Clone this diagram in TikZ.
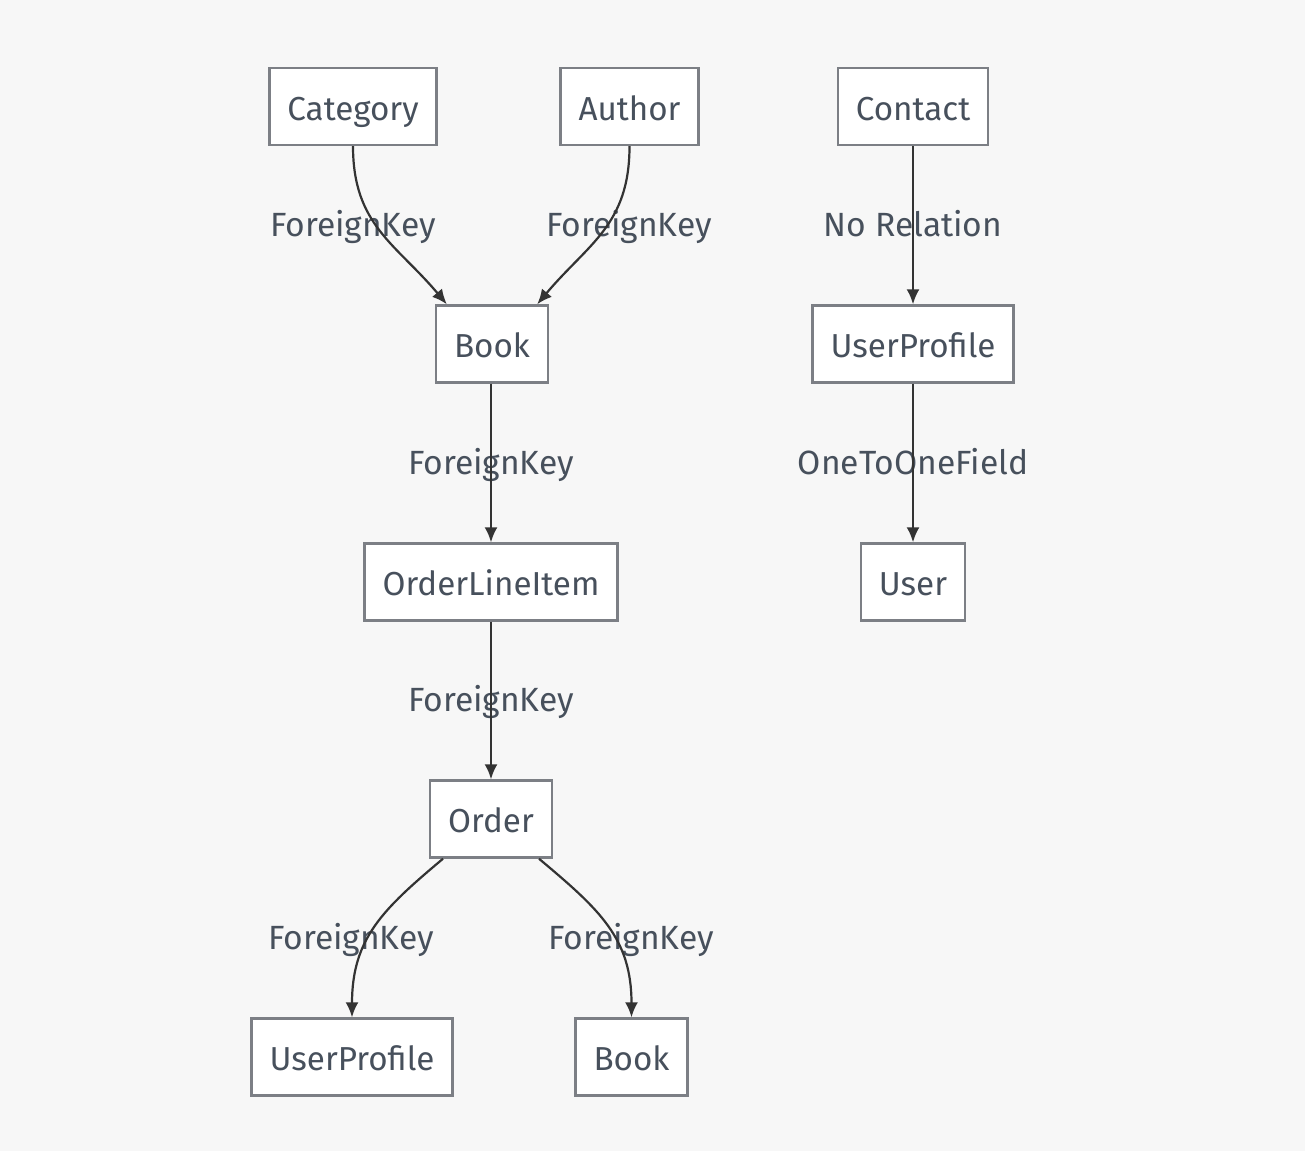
\documentclass[tikz,border=0pt]{standalone}
\usepackage{fontspec}
\setmainfont{Fira Sans}
\usetikzlibrary{arrows.meta}
\definecolor{bgcol}{HTML}{F7F7F7}
\definecolor{boxcol}{HTML}{7C7F85}
\definecolor{txtcol}{HTML}{47505C}
\definecolor{edgecol}{HTML}{333333}
\begin{document}
\begin{tikzpicture}[x=0.5pt,y=-0.5pt,
	table/.style={draw=boxcol, line width=1.2pt, fill=white, text=txtcol, font=\fontsize{16.6}{18}\selectfont, minimum height=38.5pt, inner xsep=9pt, text height=14pt, text depth=0.5pt},
	rel/.style={-{Latex[length=7.5pt,width=6.5pt]}, draw=edgecol, line width=1.1pt},
	lbl/.style={text=txtcol, font=\fontsize{16.8}{18}\selectfont, text height=14pt, text depth=0.5pt}]
\fill[bgcol] (0,0) rectangle (1305,1151);
\useasboundingbox (0,0) rectangle (1305,1151);

\node[table] (category) at (353,106.5) {Category};
\node[table] (author) at (629.5,106.5) {Author};
\node[table] (contact) at (913,106.5) {Contact};
\node[table] (book) at (492,344) {Book};
\node[table] (profile) at (913,344) {UserProfile};
\node[table] (lineitem) at (491,582) {OrderLineItem};
\node[table] (user) at (913,582) {User};
\node[table] (order) at (491,819) {Order};
\node[table] (profile2) at (352,1057) {UserProfile};
\node[table] (book2) at (631.5,1057) {Book};

\node[lbl] (l1) at (353,223) {ForeignKey};
\node[lbl] (l2) at (629,223) {ForeignKey};
\node[lbl] (l3) at (913,223) {No Relation};
\node[lbl] (l4) at (491,461) {ForeignKey};
\node[lbl] (l5) at (913,461) {OneToOneField};
\node[lbl] (l6) at (491,698) {ForeignKey};
\node[lbl] (l7) at (351,936) {ForeignKey};
\node[lbl] (l8) at (631,936) {ForeignKey};

\draw[rel] (category.south) to[out=-90,in=130,looseness=1.1] ([xshift=6pt]book.north west);
\draw[rel] (author.south) to[out=-90,in=50,looseness=1.1] ([xshift=-6pt]book.north east);
\draw[rel] (contact) -- (profile);
\draw[rel] (book.south -| lineitem) -- (lineitem);
\draw[rel] (profile) -- (user);
\draw[rel] (lineitem) -- (order);
\draw[rel] ([xshift=7pt]order.south west) to[out=-140,in=90,looseness=1.1] (profile2.north);
\draw[rel] ([xshift=-7pt]order.south east) to[out=-40,in=90,looseness=1.1] (book2.north);
\end{tikzpicture}
\end{document}
